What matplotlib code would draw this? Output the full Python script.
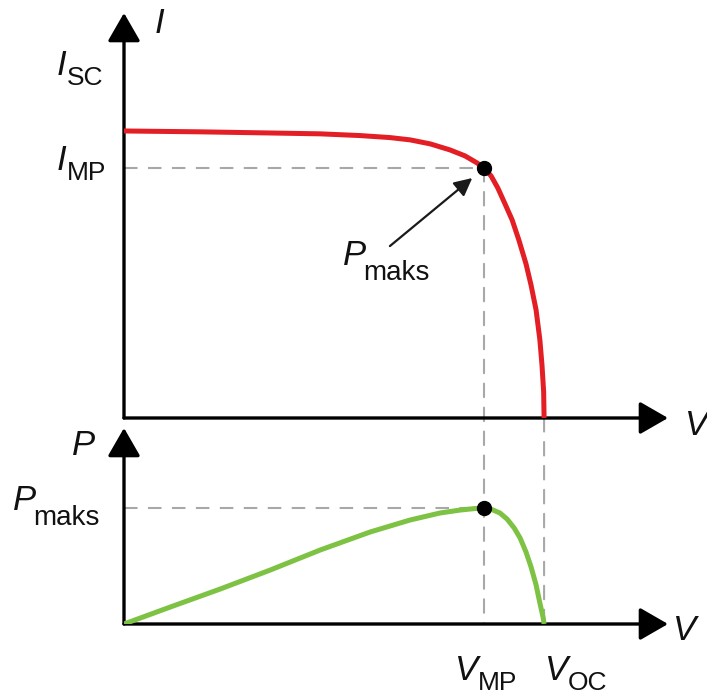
import matplotlib.pyplot as plt
from matplotlib.patches import ConnectionPatch

plt.rcParams['font.family'] = 'Liberation Sans'

# I-V curve, normalised so that V_OC = 1 and I_SC = 1
v_iv = [0.0, 0.181, 0.348, 0.467, 0.562, 0.633, 0.681, 0.729, 0.776, 0.812,
        0.840, 0.857, 0.874, 0.890, 0.907, 0.924, 0.940, 0.957, 0.969, 0.981,
        0.990, 0.995, 0.999, 1.0]
i_iv = [1.0, 0.997, 0.993, 0.990, 0.984, 0.977, 0.969, 0.955, 0.934, 0.913,
        0.889, 0.871, 0.843, 0.801, 0.746, 0.690, 0.620, 0.537, 0.463, 0.376,
        0.272, 0.185, 0.091, 0.0]

# P-V curve in the same units (P = V * I)
v_pv = [0.0, 0.110, 0.229, 0.348, 0.467, 0.586, 0.681, 0.752, 0.800, 0.836,
        0.857, 0.876, 0.895, 0.912, 0.929, 0.943, 0.957, 0.969, 0.981, 0.990,
        0.998, 1.0]
p_pv = [0.0, 0.109, 0.225, 0.347, 0.476, 0.592, 0.669, 0.714, 0.733, 0.743,
        0.746, 0.736, 0.714, 0.675, 0.617, 0.553, 0.463, 0.367, 0.251, 0.135,
        0.039, 0.0]

V_MP, I_MP, P_MP, V_OC = 0.857, 0.871, 0.746, 1.0

RED = '#e31e24'
GREEN = '#7dc242'
GREY = '#a8a8a8'

W, H = 707, 697
fig = plt.figure(figsize=(W / 100, H / 100), dpi=100)


def px_axes(x0, y0, x1, y1):
    # (x0, y0) is the origin, (x1, y1) the tips of the axis arrows, in pixels from top-left
    return fig.add_axes([x0 / W, 1 - y0 / H, (x1 - x0) / W, (y0 - y1) / H])


ax_iv = px_axes(124, 418, 668, 13)
ax_pv = px_axes(124, 624, 668, 428)
ax_iv.set_xlim(0, 1.295)
ax_iv.set_ylim(0, 1.411)
ax_pv.set_xlim(0, 1.295)
ax_pv.set_ylim(0, 1.261)

arrow_kw = dict(arrowstyle='-|>,head_length=1.25,head_width=0.72', mutation_scale=14,
                lw=2.4, color='black', shrinkA=0, shrinkB=0)
for ax in (ax_iv, ax_pv):
    ax.axis('off')
    ax.annotate('', xy=(1, 0), xytext=(0, 0), xycoords='axes fraction', arrowprops=arrow_kw)
    ax.annotate('', xy=(0, 1), xytext=(0, 0), xycoords='axes fraction', arrowprops=arrow_kw)

dash = (0, (6.5, 5))
ax_iv.plot([0, V_MP], [I_MP, I_MP], color=GREY, lw=1.5, ls=dash, zorder=1)
ax_pv.plot([0, V_MP], [P_MP, P_MP], color=GREY, lw=1.5, ls=dash, zorder=1)
for xa, ya in ((V_MP, I_MP), (V_OC, 0)):
    con = ConnectionPatch(xyA=(xa, ya), coordsA=ax_iv.transData,
                          xyB=(xa, 0), coordsB=ax_pv.transData,
                          color=GREY, lw=1.5, ls=dash, zorder=-1)
    fig.add_artist(con)

ax_iv.plot(v_iv, i_iv, color=RED, lw=3.6, solid_capstyle='butt',
           solid_joinstyle='round', zorder=3)
ax_pv.plot(v_pv, p_pv, color=GREEN, lw=3.6, solid_capstyle='butt',
           solid_joinstyle='round', zorder=3)
ax_iv.plot(V_MP, I_MP, 'o', color='black', ms=10, zorder=5)
ax_pv.plot(V_MP, P_MP, 'o', color='black', ms=10, zorder=5)

# arrow pointing at the maximum power point
ax_iv.annotate('', xy=(0.829, 0.836), xytext=(0.633, 0.599),
               arrowprops=dict(arrowstyle='-|>,head_length=0.9,head_width=0.45',
                               mutation_scale=12, lw=1.6, color='#1a1a1a',
                               shrinkA=0, shrinkB=0))


def sym(x, y, main, sub=None, drop=2.0, gap=0.0, size=25, sub_size=19):
    # italic symbol with optional upright subscript; x, y = left edge / baseline in pixels
    t = ax_iv.annotate(main, xy=(x, H - y), xycoords='figure pixels', fontsize=size,
                       fontstyle='italic', va='baseline', ha='left', color='#111111',
                       annotation_clip=False)
    if sub:
        ax_iv.annotate(sub, xy=(1, 0), xycoords=t, xytext=(gap, -drop),
                       textcoords='offset points', fontsize=sub_size, va='baseline',
                       ha='left', color='#111111', annotation_clip=False)


sym(155, 33, 'I')
sym(57, 75, 'I', 'SC')
sym(57, 170, 'I', 'MP')
sym(343, 265, 'P', 'maks', drop=6, gap=-2, sub_size=20)
sym(685, 435, 'V')
sym(72, 455, 'P')
sym(13, 510, 'P', 'maks', drop=6, gap=-2, sub_size=20)
sym(673, 640, 'V')
sym(455, 680, 'V', 'MP')
sym(545, 680, 'V', 'OC')

fig.savefig('out.png', dpi=100)
